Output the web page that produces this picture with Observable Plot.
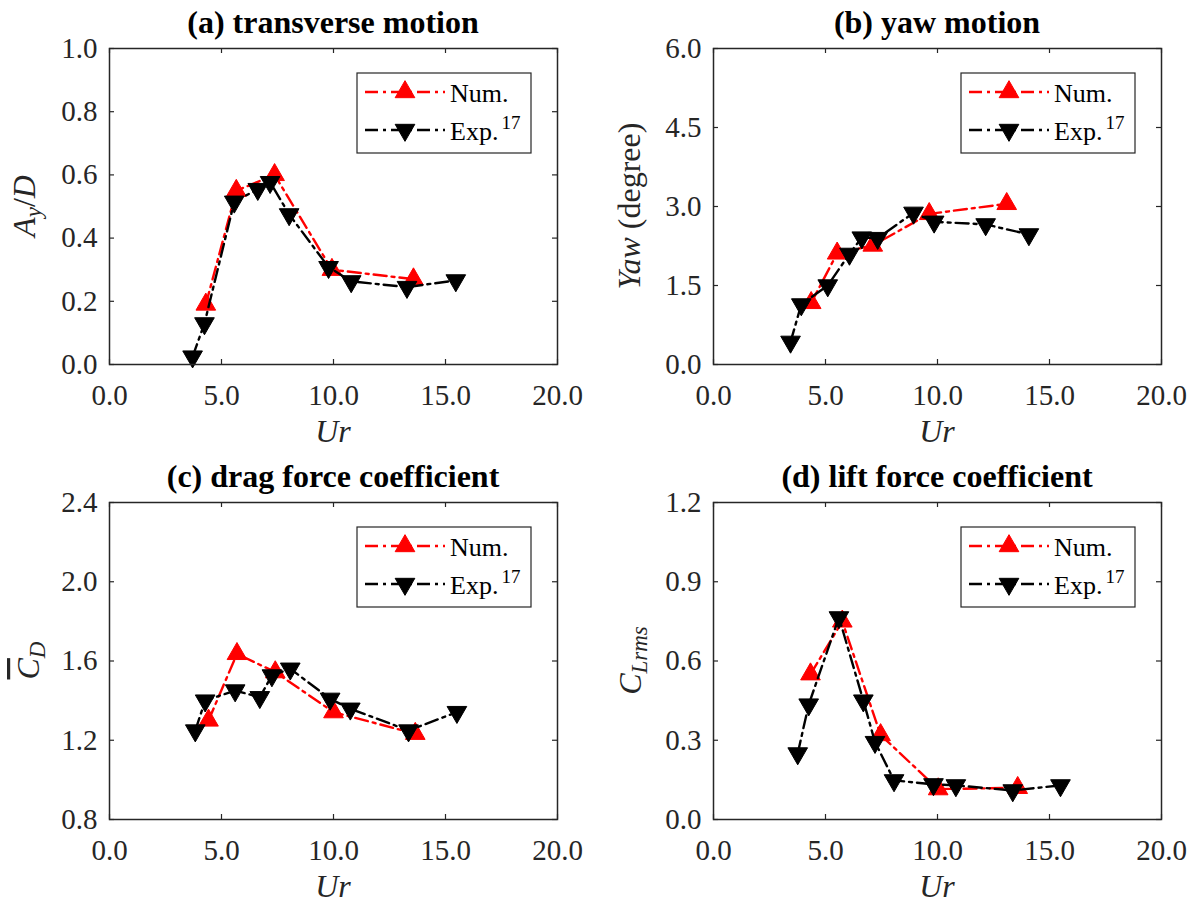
<!DOCTYPE html>
<html><head><meta charset="utf-8">
<script src="https://cdn.jsdelivr.net/npm/d3@7"></script>
<script src="https://cdn.jsdelivr.net/npm/@observablehq/plot@0.6"></script>
<style>
body{margin:0;background:#fff;}
#root{position:relative;width:1201px;height:903px;background:#fff;overflow:hidden;}
#root svg{position:absolute;overflow:visible;}
</style></head><body><div id="root"></div>
<script>
// ---------- data ----------
const xTicks = [0, 5, 10, 15, 20];
// (a) transverse motion
const urNumA = [4.30, 5.66, 7.37, 9.93, 13.57];
const ayNum  = [0.19, 0.55, 0.60, 0.30, 0.27];
const urExpA = [3.71, 4.24, 5.57, 6.62, 7.17, 8.02, 9.78, 10.79, 13.28, 15.46];
const ayExp  = [0.025, 0.13, 0.515, 0.555, 0.577, 0.475, 0.308, 0.263, 0.245, 0.266];
const yTicksA = [0, 0.2, 0.4, 0.6, 0.8, 1.0];
// (b) yaw motion
const urNumB = [4.36, 5.52, 7.11, 9.63, 13.09];
const yawNum = [1.17, 2.11, 2.26, 2.86, 3.05];
const urExpB = [3.44, 3.92, 5.10, 6.07, 6.62, 7.33, 8.93, 9.85, 12.15, 14.08];
const yawExp = [0.43, 1.14, 1.50, 2.10, 2.41, 2.40, 2.88, 2.71, 2.66, 2.47];
const yTicksB = [0, 1.5, 3.0, 4.5, 6.0];
// (c) drag force coefficient
const urNumC = [4.42, 5.69, 7.40, 10.0, 13.65];
const cdNum  = [1.30, 1.636, 1.544, 1.342, 1.233];
const urExpC = [3.83, 4.27, 5.61, 6.71, 7.25, 8.07, 9.85, 10.75, 13.35, 15.51];
const cdExp  = [1.249, 1.40, 1.451, 1.417, 1.527, 1.561, 1.409, 1.359, 1.249, 1.342];
const yTicksC = [0.8, 1.2, 1.6, 2.0, 2.4];
// (d) lift force coefficient
const urNumD = [4.33, 5.75, 7.46, 10.03, 13.58];
const clNum  = [0.55, 0.75, 0.32, 0.115, 0.12];
const urExpD = [3.76, 4.25, 5.60, 6.69, 7.21, 8.06, 9.82, 10.82, 13.36, 15.49];
const clExp  = [0.25, 0.435, 0.765, 0.45, 0.293, 0.148, 0.133, 0.129, 0.11, 0.129];
const yTicksD = [0, 0.3, 0.6, 0.9, 1.2];

const titles = ["(a) transverse motion", "(b) yaw motion", "(c) drag force coefficient", "(d) lift force coefficient"];
const legendNames = ["Num.", "Exp."];
const legendRef = "17";

// ---------- style ----------
const FONT = "'Liberation Serif','Times New Roman',Times,serif";
const AX = "#262626";
const RED = "#ff0000", BLK = "#000000";
const DASH = "13,5,3,5";
const LW = 2.4, R = 7.3, TICKLEN = 5, TICKFS = 29;
const fmt = d3.format(".1f");
const zip = (xs, ys) => xs.map((x, i) => ({ur: x, v: ys[i]}));

const root = document.getElementById("root");

function makePanel(cfg) {
  const {left, top, width, height, mL, mR, mT, mB, yDomain, yTicks, num, exp, title, ylabel, ylabelOff} = cfg;
  const fw = width - mL - mR, fh = height - mT - mB;
  const plot = Plot.plot({
    width, height, marginLeft: mL, marginRight: mR, marginTop: mT, marginBottom: mB,
    style: {fontFamily: FONT, fontSize: TICKFS + "px", color: AX, background: "transparent", overflow: "visible"},
    x: {domain: [0, 20]},
    y: {domain: yDomain},
    marks: [
      Plot.axisX({ticks: xTicks, tickFormat: fmt, tickSize: 0, tickPadding: 20, label: null, fontSize: TICKFS}),
      Plot.axisY({ticks: yTicks, tickFormat: fmt, tickSize: 0, tickPadding: 12, label: null, fontSize: TICKFS}),
      Plot.tickX(xTicks, {x: d => d, insetTop: fh - TICKLEN, stroke: AX, strokeWidth: 1.2}),
      Plot.tickX(xTicks, {x: d => d, insetBottom: fh - TICKLEN, stroke: AX, strokeWidth: 1.2}),
      Plot.tickY(yTicks, {y: d => d, insetRight: fw - TICKLEN, stroke: AX, strokeWidth: 1.2}),
      Plot.tickY(yTicks, {y: d => d, insetLeft: fw - TICKLEN, stroke: AX, strokeWidth: 1.2}),
      Plot.line(num, {x: "ur", y: "v", stroke: RED, strokeWidth: LW, strokeDasharray: DASH}),
      Plot.dot(num, {x: "ur", y: "v", symbol: "triangle", r: R, fill: RED, stroke: RED, strokeWidth: 1}),
      Plot.line(exp, {x: "ur", y: "v", stroke: BLK, strokeWidth: LW, strokeDasharray: DASH}),
      Plot.dot(exp, {x: "ur", y: "v", symbol: "triangle", r: R, rotate: 180, fill: BLK, stroke: BLK, strokeWidth: 1}),
      Plot.frame({stroke: AX, strokeWidth: 1.5})
    ]
  });
  plot.style.left = left + "px";
  plot.style.top = top + "px";
  root.appendChild(plot);
  const svg = d3.select(plot);
  // make sure tick labels use the intended size
  svg.selectAll('g[aria-label="x-axis tick label"], g[aria-label="y-axis tick label"]')
    .attr("font-size", TICKFS).style("font-size", TICKFS + "px");
  // title
  svg.append("text").attr("x", mL + fw / 2).attr("y", mT - 15)
    .attr("text-anchor", "middle").attr("font-family", FONT).attr("font-size", 32)
    .attr("font-weight", "bold").attr("fill", "#000").text(title);
  // x label
  svg.append("text").attr("x", mL + fw / 2).attr("y", mT + fh + 78)
    .attr("text-anchor", "middle").attr("font-family", FONT).attr("font-size", 32)
    .attr("font-style", "italic").attr("fill", AX).text("Ur");
  // y label
  const yl = svg.append("text")
    .attr("transform", `translate(${mL - ylabelOff},${mT + fh / 2}) rotate(-90)`)
    .attr("text-anchor", "middle").attr("font-family", FONT).attr("font-size", 32).attr("fill", AX);
  ylabel(yl);
  // legend
  const lw = 174, lh = 80;
  const g = svg.append("g").attr("transform", `translate(${mL + fw - 26 - lw},${mT + 25})`);
  g.append("rect").attr("width", lw).attr("height", lh).attr("fill", "#fff").attr("stroke", AX).attr("stroke-width", 1.2);
  const rows = [{y: 19, c: RED, rot: 0, name: legendNames[0]}, {y: 57, c: BLK, rot: 180, name: legendNames[1]}];
  const sym = d3.symbol(d3.symbolTriangle, Math.PI * R * R)();
  rows.forEach((r, i) => {
    g.append("line").attr("x1", 8).attr("x2", 88).attr("y1", r.y).attr("y2", r.y)
      .attr("stroke", r.c).attr("stroke-width", LW).attr("stroke-dasharray", DASH);
    g.append("path").attr("d", sym).attr("transform", `translate(48,${r.y}) rotate(${r.rot})`)
      .attr("fill", r.c).attr("stroke", r.c);
    const t = g.append("text").attr("x", 93).attr("y", r.y + 10).attr("text-anchor", "start")
      .attr("font-family", FONT).attr("font-size", 26).attr("fill", "#000").text(r.name);
    if (i === 1) t.append("tspan").attr("dy", -11).attr("dx", 3).attr("font-size", 19).text(legendRef);
  });
}

makePanel({left: 0, top: 0, width: 600, height: 451, mL: 109, mR: 43, mT: 48, mB: 87,
  yDomain: [0, 1], yTicks: yTicksA, num: zip(urNumA, ayNum), exp: zip(urExpA, ayExp), title: titles[0], ylabelOff: 74,
  ylabel: t => {
    t.append("tspan").attr("font-style", "italic").text("A");
    t.append("tspan").attr("font-style", "italic").attr("font-size", 23).attr("dy", 6).text("y");
    t.append("tspan").attr("dy", -6).text("/");
    t.append("tspan").attr("font-style", "italic").text("D");
  }});
makePanel({left: 600, top: 0, width: 601, height: 451, mL: 113, mR: 40, mT: 48, mB: 87,
  yDomain: [0, 6], yTicks: yTicksB, num: zip(urNumB, yawNum), exp: zip(urExpB, yawExp), title: titles[1], ylabelOff: 73,
  ylabel: t => {
    t.append("tspan").attr("font-style", "italic").text("Yaw");
    t.append("tspan").text(" (degree)");
  }});
makePanel({left: 0, top: 451, width: 600, height: 452, mL: 109, mR: 43, mT: 51, mB: 84,
  yDomain: [0.8, 2.4], yTicks: yTicksC, num: zip(urNumC, cdNum), exp: zip(urExpC, cdExp), title: titles[2], ylabelOff: 70,
  ylabel: t => {
    t.append("tspan").attr("font-style", "italic").attr("text-decoration", "overline").text("C");
    t.append("tspan").attr("font-style", "italic").attr("font-size", 23).attr("dy", 6).text("D");
  }});
makePanel({left: 600, top: 451, width: 601, height: 452, mL: 113, mR: 40, mT: 51, mB: 84,
  yDomain: [0, 1.2], yTicks: yTicksD, num: zip(urNumD, clNum), exp: zip(urExpD, clExp), title: titles[3], ylabelOff: 72,
  ylabel: t => {
    t.append("tspan").attr("font-style", "italic").text("C");
    t.append("tspan").attr("font-style", "italic").attr("font-size", 23).attr("dy", 6).text("Lrms");
  }});
</script>
</body></html>
